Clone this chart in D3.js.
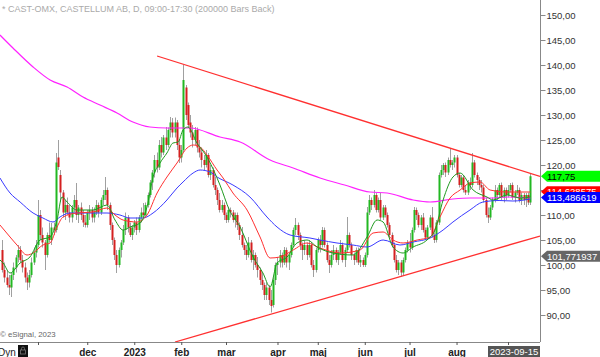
<!DOCTYPE html>
<html><head><meta charset="utf-8">
<script src="https://cdn.jsdelivr.net/npm/d3@7"></script>
<style>
html,body{margin:0;padding:0;background:#fff;overflow:hidden}
svg{display:block;font-family:"Liberation Sans",Arial,sans-serif}
</style></head>
<body>
<svg id="c" width="600" height="357"></svg>
<script>
// ---------- DATA ----------
const title = "* CAST-OMX, CASTELLUM AB, D, 09:00-17:30 (200000 Bars Back)";
// daily candles [open, high, low, close], index 0 = mid Oct 2022, last = 2023-09-15
const ohlc = [
[103,105,98.5,99],[99,100.5,96.5,97.5],[97.5,99,95.5,96],[96,98,94,95.5],[95.5,98.5,93.6,98],
[98,100.5,97,99.5],[99.5,102,98.5,101.5],[101.5,104,100.5,103],[103,103.8,100.5,101],[101,102,98.5,99.5],
[99.5,100.5,96.5,97.5],[97.5,98.5,95,96.5],[96.5,99,95.5,98],[98,101.5,97.5,100.5],[100.5,103.5,100,102.5],
[102.5,105,101.5,104],[104,113,103.5,110],[110,111,105,106],[106,107.5,103.5,104.5],[104.5,105,99,102],
[102,106.5,101.5,106],[106,108.5,104.5,105],[105,108.4,104,107.5],[107.5,108.5,106,107],[107,122.4,106.5,120.5],
[121.5,125,119,119.6],[118,119,112.5,114.5],[114.5,115,109.5,110.5],[110.5,113,109,112],[112,113.5,110,110.5],
[110.5,112,108.5,109.5],[109.5,112,108.5,111.5],[111.5,114,110.5,113],[113,116.4,109,110],[110,112,108.4,111.5],
[111.5,112.5,109,110],[110,111,107.6,108.5],[108.5,110,107.5,108],[108,111,107.5,110.5],[110.5,112,109,111],
[111,111.6,108.5,109.5],[109.5,111.5,108.5,110.5],[110.5,113,110,112],[112,112.5,109.5,110.5],[110.5,113.5,110,113],
[113,115,112,114],[114,117.6,113,115],[115,115.5,111,112],[112,112.5,107,108],[108,108.5,104,105],
[105,105.5,101,102],[102,103,98.4,100],[100,103.5,99.5,103],[103,105,101.5,104.5],[104.5,108,104,107],
[107,110.5,106,109.5],[109.5,110,106.5,107.5],[107.5,108.5,105.6,106],[106,108,105,107.5],[107.5,109,106.5,108.5],
[108.5,109.5,106,107],[107,110,106.5,109.5],[109.5,111.5,108.5,110.5],[110.5,112.4,109.5,110],[110,112.5,109.5,112],
[112,114.5,111.5,114],[114,117,113.5,116.5],[116.5,119,115,118.5],[118.5,122,117.5,121],[121,122.5,118.5,119.5],
[119.5,125,119,124],[124,125.6,121.5,122.5],[122.5,126,122,125.5],[125.5,127.6,123,124],[124,127.5,123.5,127],
[127,129.6,125.5,128.5],[128.5,129.4,125.5,126.5],[126.5,129.5,125.5,128.5],[128.5,129,123,124],[124,125,120.4,121.5],
[121.5,124,120.5,123],[123,140,122.5,137],[135.5,136,129,130],[132,132.5,127.5,128],[128.5,130,125.5,126.5],
[126.5,128,123.5,125],[125,127.6,124,127],[127,127.5,122.5,123.5],[123.5,125,121.5,122.5],[122.5,123.5,119.5,121],
[121,122,119,120],[120,123,119.5,122],[122,122.4,117.5,118],[118,120,117,119],[119,119.5,115.5,116],
[116,117.6,114,115],[115,115.5,112,113],[113,114.4,110.5,111],[111,113,110.5,112],[112,112.5,109,110],
[110,110.5,108.4,109],[109,111.6,108.5,111],[111,111.5,109.5,110.5],[110.5,111,108.5,109],[109,110.5,107.5,110],
[110,110.5,107,108],[108,108.5,105,106],[106,107.6,103.5,104],[104,104.5,102,103],[103,104,101,102],
[102,105.6,101.5,104.5],[104.5,105,100.5,101],[101,103,99,102],[102,102.5,99.5,100],[100,101.6,97.5,99],
[99,99.5,96,97],[97,98.5,95,96],[96,96.5,93,94],[94,96.5,93,95.5],[95.5,96,92,93],
[93,95,90.5,91.8],[92,97.5,91.5,97],[97,100.5,96,100],[100,101.6,98,100.5],[100.5,103,99.5,102],
[102,102.5,99.5,100.5],[100.5,103.6,100,103],[103,103.5,99.5,100.5],[100.5,102.5,99,102],[102,104.5,101.5,104],
[104,107.5,103.5,107],[107,109.4,106,108],[108,108.5,105,106],[106,106.5,103,104],[104,104.5,101,103],
[103,105,102,104],[104,104.5,101,102],[102,105,101.5,104],[104,104.5,99.5,100],[100,101,97.6,99],
[99,103.5,98.5,103],[103,105.5,102.5,105],[105,106,102.5,104],[104,107.6,103.5,107],[107,107.5,103.5,104],
[104,104.5,100.5,101],[101,102,98.4,100],[100,103,99.5,102],[102,104,101,103],[103,103.5,100.5,101],
[101,103,100,102.5],[102.5,105,102,104],[104,104.5,100.5,101],[101,103.5,99.6,103],[103,109.6,102.5,106],
[106,106.5,103.5,104],[104,104.5,101,102],[102,102.5,100,101],[101,103.5,100.5,103],[103,103.5,100,100.5],
[100.5,102,99.6,101],[101,101.5,99.6,100],[100,102.5,99.6,102],[102,111.6,101.5,110.5],[110.5,114,110,113],
[113,113.5,111,112],[112,115,111.5,114],[114,114.4,110.5,111],[111,113.5,110.5,113],[113,114.4,109,109.5],
[109.5,112,109,111.5],[111.5,112,109.5,110],[110,110.5,107.5,108],[108,108.5,105.5,106],[106,106.5,103.5,104],
[104,104.5,100.5,101],[101,102,98.5,99],[99,101,98,100.5],[100.5,101,97.6,98.5],[98.5,101.5,98,101],
[101,103.5,100.5,103],[103,105,102.5,104.5],[104.5,106.4,102.5,103.5],[103.5,107.5,103,107],[107,111.6,106.5,111],
[111,111.5,109,110],[110,110.5,107.5,108],[108,110,107,109.5],[109.5,110.4,106.5,107],[107,107.5,105,105.5],
[105.5,108,105,107.5],[107.5,110,107,109.5],[109.5,111.6,105.5,106],[106,106.5,104.4,105],[105,109,104.5,108.5],
[108.5,118.5,108,118],[118,120,117.5,119],[119,120.4,118,120],[120,120.5,117.6,118.5],[118.5,121.5,118,121],
[121,123.4,119.5,120],[120,121,119,120.5],[120.5,122,119.5,121.5],[121.5,122,117.5,118],[118,118.4,115.5,116],
[116,118,115.5,117.5],[117.5,118,114.5,115],[115,116,114,114.5],[114.5,117,114,116.5],[116.5,117.5,115,116],
[116,122.4,115.5,120.5],[120.5,121,117.5,118],[118,118.5,116,117],[117,117.6,115,116],[116,117,114.5,115.5],
[115.5,116,112.5,113],[113,113.5,109.5,110],[110,111.5,108.4,109.5],[109.5,112,109,111.5],[111.5,113.5,111,113],
[113,116,112.5,115],[115,115.5,113,114],[114,116.4,113.5,116],[116,116.5,113,113.5],[113.5,115.5,112.5,115],
[115,115.5,113,114],[114,116,113.5,115],[115,116.4,114.5,116],[116,116.5,113,113.5],[113.5,115,112.5,114.5],
[114.5,116,114,115],[115,115.5,112.5,113],[113,114.5,112,114],[114,114.4,112,113],[113,114.4,111.6,114],
[114,114.5,112,112.5],[112.5,118.2,112,117.75]
];
// month starts (bar index) and their labels
const monthIdx    = [16, 38, 59, 80, 100, 123, 141, 162, 182, 203, 226];
const monthLabels = ["", "dec", "2023", "feb", "mar", "apr", "maj", "jun", "jul", "aug", ""];
// price axis ticks
const yTicks = [90, 95, 100, 105, 110, 115, 120, 125, 130, 135, 140, 145, 150];
// moving averages: [bar index, value]
const maMagenta = [[-1,146],[4.8,143.4],[13.8,139.6],[21.4,137],[29,135.6],[36.1,133.6],[43.7,132],[51.3,130.4],[58.4,128.6],[66,127.6],[73.6,127.4],[83.9,127.4],[97.3,125.6],[106.3,124.6],[119.7,121],[130,119.4],[142,117.4],[153,116],[164.3,114.6],[172,114.4],[183.6,113],[191.2,112.6],[201.4,113.2],[209,113.4],[218,113.4],[226,113.6],[236,113.4]];
const maBlue = [[-1,117.4],[3.5,114.4],[8,112.6],[13.8,110.4],[18.2,109.4],[22.7,108.6],[25.8,109.6],[30.3,110.4],[37.9,110.4],[46.8,110.4],[52.6,110],[57.1,109.4],[62.9,109.4],[67.4,110.4],[73.6,113],[78.1,115.4],[80.8,116.6],[85.3,118.4],[88.4,119],[92.9,118.6],[96,117.6],[103.1,116],[110.7,113.6],[118.3,109.6],[122.8,107.6],[128.6,106],[137.5,105.4],[142,105],[149.6,104.4],[156.7,104],[163,103.6],[170.2,105],[177.7,104],[183.6,104.6],[191.2,105.4],[197,107],[201.4,108.6],[209,111],[214.8,112.6],[222,112.9],[228.2,112.8],[236,113.2]];
const maRed = [[-1,108],[3.5,105.6],[6.6,104],[11.1,102],[13.8,102.4],[18.2,104],[21.4,104.4],[24.5,107.6],[27.2,109.6],[33.4,110.4],[40.6,110.6],[46.8,111.4],[50.4,110],[54,109],[60.2,108.6],[64.7,110],[69.2,114.4],[73.6,117.6],[78.1,120.4],[82.6,123.4],[85.3,124],[88.4,123.6],[91.5,122],[96,119],[98.7,117.4],[103.1,114.4],[109.4,111],[115.2,105.6],[119.7,101.4],[124.1,101.6],[130,103],[136.2,104.4],[142,103.4],[150.9,102.4],[159.9,103],[165.7,106.4],[170.2,106.6],[174.6,105],[179.1,104.4],[185.4,105],[191.2,105.6],[195.6,109.6],[200.1,113.4],[204.6,115],[209,116.4],[213.5,116.6],[218,115],[225.6,114.6],[236,114.6]];
const maGreen = [[-1,101],[0.4,100.4],[3.5,98.4],[8,100.4],[12.4,101.6],[16.9,105],[21.4,105.6],[24.5,109],[26.7,113.6],[29,112.6],[33.4,111],[40.6,111],[46.8,112],[50.4,109],[54,107],[57.1,107.6],[61.6,108.4],[64.7,111.6],[67.4,117.6],[70.5,120.4],[73.6,122.4],[76.3,124.4],[78.6,124.6],[80.8,127],[83,127.6],[87,124.4],[91.5,121.6],[97.3,116],[101.5,111],[106.3,107.6],[112.1,101.6],[116.5,98.4],[119.7,95.6],[122.8,100.4],[127.3,101.6],[131.7,104.4],[136.2,105],[140.7,103.6],[147.8,102.4],[156.7,102],[163,105.6],[167.5,109],[170.2,108.6],[174.6,103.6],[179.1,102.4],[183.6,103.6],[189.8,105],[193.4,107],[197,113],[201.4,117.6],[204.6,118.4],[210.4,115],[216.6,113.6],[219.3,113],[225.6,114],[231.4,113.4],[236,113.6]];
// trend lines: [bar index, value] endpoints
const trendUpper = [[69.2,141.8],[240.3,117.7]];
const trendLower = [[77.2,84.6],[240.3,105.8]];
// last-value labels on the price scale
const labelValues = [114.628575, 113.486619, 117.75, 101.771937];
const labelTexts  = ["114,628575", "113,486619", "117,75", "101,771937"];
const cursorDate = "2023-09-15";
const copyright = "© eSignal, 2023";

// ---------- STYLES ----------
const labelBg = ["#ff0000", "#0000ff", "#00ff00", "#666666"];
const labelFg = ["#ffffff", "#ffffff", "#000000", "#ffffff"];
const maColors = {mag:"#ff22ff", blue:"#3a3aff", red:"#ff3030", green:"#1f9a1f"};

// ---------- CHART ----------
const W = 600, H = 357, plotR = 540, plotB = 342;
const svg = d3.select("#c");
const x = d3.scaleLinear().domain([0, 236]).range([2.2, 530.4]);
const y = d3.scaleLinear().domain([90, 150]).range([315, 15]);

svg.append("defs").append("clipPath").attr("id","clip")
  .append("rect").attr("x",0).attr("y",0).attr("width",plotR).attr("height",plotB);

const plot = svg.append("g").attr("clip-path","url(#clip)");

// candles
const candles = plot.append("g");
candles.selectAll("line").data(ohlc).join("line")
  .attr("x1",(d,i)=>Math.round(x(i))+0.5).attr("x2",(d,i)=>Math.round(x(i))+0.5)
  .attr("y1",d=>y(d[1])).attr("y2",d=>y(d[2]))
  .attr("stroke","#a0a0a0").attr("stroke-width",1);
candles.selectAll("rect").data(ohlc).join("rect")
  .attr("x",(d,i)=>Math.round(x(i))-0.5).attr("width",2)
  .attr("y",d=>y(Math.max(d[0],d[3])))
  .attr("height",d=>Math.max(1,Math.abs(y(d[0])-y(d[3]))))
  .attr("fill",d=>d[3]>=d[0]?"#22b822":"#d42020");

// moving averages
const line = d3.line().x(d=>x(d[0])).y(d=>y(d[1])).curve(d3.curveMonotoneX);
[[maMagenta,maColors.mag,1.2],[maBlue,maColors.blue,1],[maRed,maColors.red,1],[maGreen,maColors.green,1]]
  .forEach(([data,col,w])=>{
    plot.append("path").attr("d",line(data)).attr("fill","none")
      .attr("stroke",col).attr("stroke-width",w);
  });

// trend lines
const tl = d3.line().x(d=>x(d[0])).y(d=>y(d[1]));
[trendUpper,trendLower].forEach(t=>{
  plot.append("path").attr("d",tl(t)).attr("fill","none")
    .attr("stroke","#ff3030").attr("stroke-width",1.3);
});

// frame
svg.append("line").attr("x1",0).attr("x2",plotR).attr("y1",plotB+0.5).attr("y2",plotB+0.5)
  .attr("stroke","#888").attr("stroke-width",1);

// y axis
const yAxis = svg.append("g").attr("transform",`translate(${plotR+0.5},0)`)
  .call(d3.axisRight(y).tickValues(yTicks).tickSize(5).tickPadding(1)
    .tickFormat(d=>d3.format(".2f")(d).replace(".",",")));
yAxis.select(".domain").attr("d",`M0,0V${plotB}`).attr("stroke","#888");
yAxis.selectAll(".tick line").attr("stroke","#888");
yAxis.selectAll("text").attr("font-size",9.5).attr("fill","#333")
  .attr("font-family","Liberation Sans, Arial, sans-serif");

// x axis
const xAxis = svg.append("g").attr("transform",`translate(0,${plotB})`)
  .call(d3.axisBottom(x).tickValues(monthIdx).tickSize(3).tickPadding(4)
    .tickFormat((d,i)=>monthLabels[i]));
xAxis.select(".domain").remove();
xAxis.selectAll(".tick line").attr("stroke","#555");
xAxis.selectAll("text").attr("font-size",10).attr("font-weight","bold").attr("fill","#222")
  .attr("font-family","Liberation Sans, Arial, sans-serif");

// price labels
const lbl = svg.append("g");
labelValues.forEach((v,k)=>{
  const yc = y(v);
  lbl.append("path")
    .attr("d",`M${plotR+1},${yc}L${plotR+7},${yc-5.5}H${W}V${yc+5.5}H${plotR+7}Z`)
    .attr("fill",labelBg[k]);
  lbl.append("text").attr("x",plotR+7).attr("y",yc+3.5)
    .attr("font-size",9.5).attr("fill",labelFg[k]).text(labelTexts[k]);
});

// header & footer texts
svg.append("text").attr("x",2).attr("y",12).attr("font-size",9).attr("fill","#aaa").text(title);
svg.append("text").attr("x",0).attr("y",337).attr("font-size",7.8).attr("fill","#666").text(copyright);
svg.append("text").attr("x",-2).attr("y",356).attr("font-size",10).attr("fill","#222").text("Dyn");
svg.append("rect").attr("x",18).attr("y",345).attr("width",10).attr("height",12).attr("fill","#111");
svg.append("rect").attr("x",20.5).attr("y",350).attr("width",5).attr("height",4).attr("fill","none").attr("stroke","#777").attr("stroke-width",0.8);
svg.append("path").attr("d","M21.5,350V348.5a1.5,1.5 0 0 1 3,0V350").attr("fill","none").attr("stroke","#777").attr("stroke-width",0.8);

// date cursor box
svg.append("rect").attr("x",488).attr("y",346).attr("width",52).attr("height",11).attr("fill","#555");
svg.append("text").attr("x",514).attr("y",355).attr("text-anchor","middle").attr("font-size",9.5)
  .attr("fill","#fff").text(cursorDate);
</script>
</body></html>
